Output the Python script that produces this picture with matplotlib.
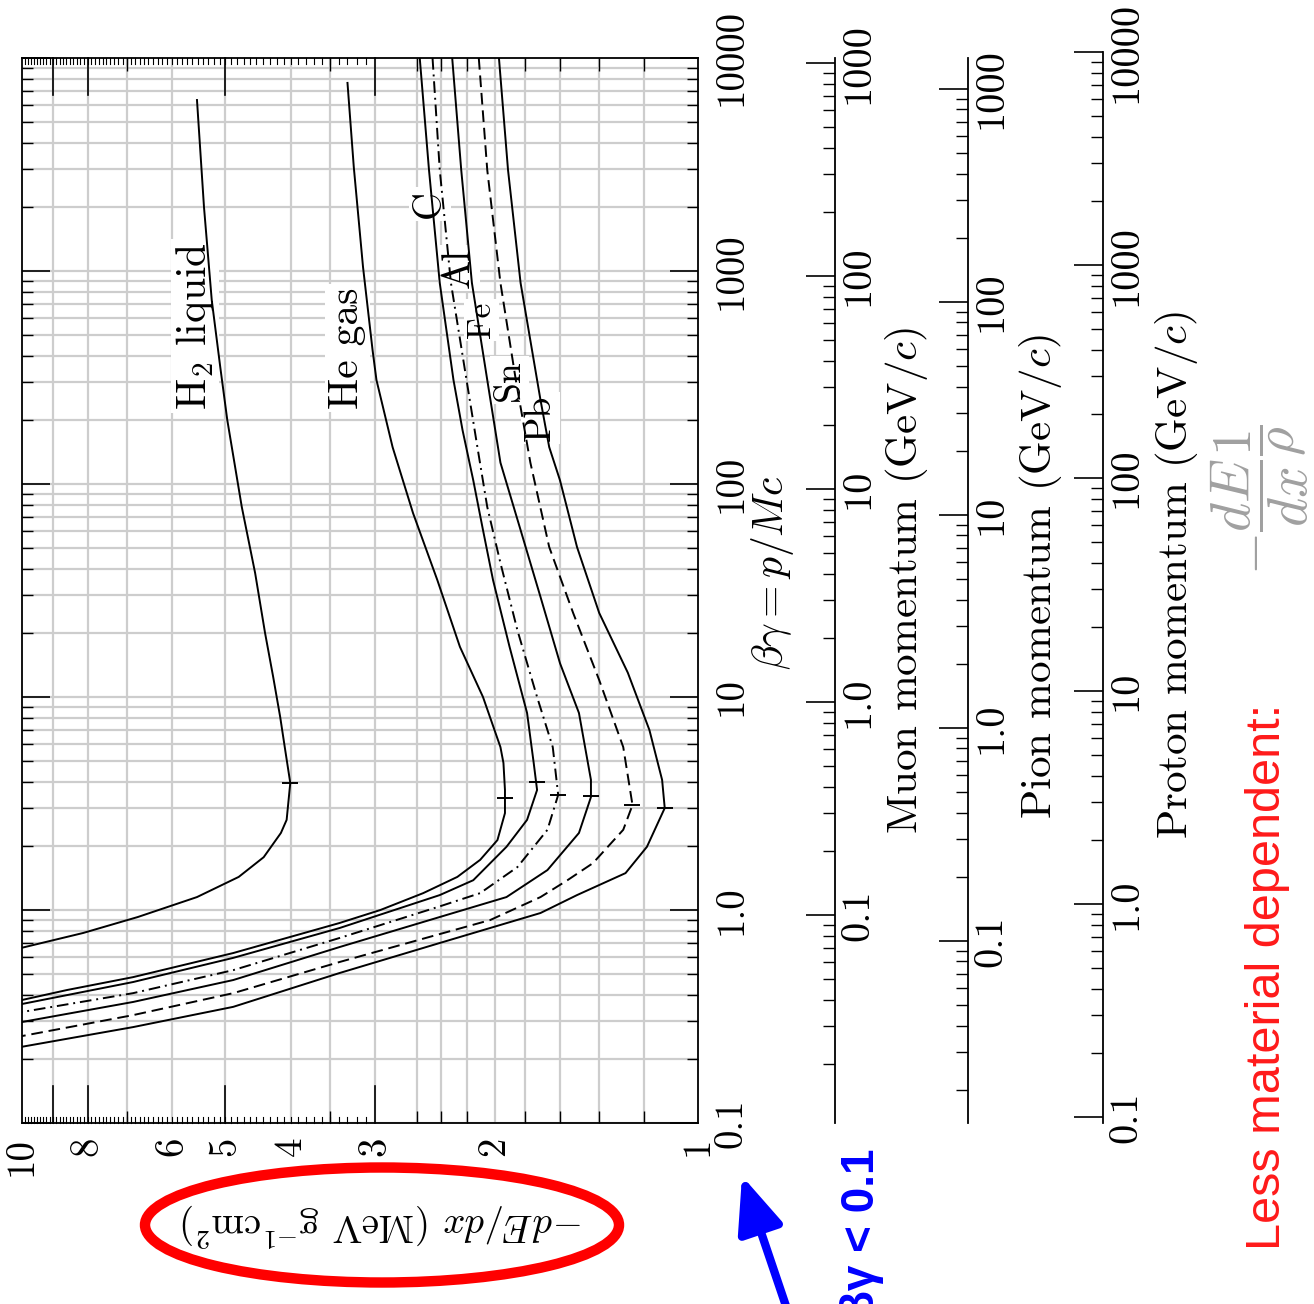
import numpy as np
import matplotlib
matplotlib.use("Agg")
import matplotlib.pyplot as plt
from matplotlib.patches import Ellipse, FancyArrowPatch
from matplotlib.ticker import FixedLocator, NullFormatter, LogLocator

plt.rcParams['font.family'] = 'cmr10'
plt.rcParams['mathtext.fontset'] = 'cm'
plt.rcParams['axes.formatter.use_mathtext'] = True

# beta*gamma and -dE/dx (MeV g^-1 cm^2)
bg_H2 = [6350, 1995, 731, 354, 200, 78, 38.2, 20, 12.4, 8.05, 5.64, 3.95, 2.65, 2.30, 1.77, 1.43, 1.15, 0.927, 0.780, 0.665]
dedx_H2 = [5.51, 5.38, 5.24, 5.09, 4.97, 4.73, 4.52, 4.37, 4.25, 4.15, 4.08, 4.01, 4.06, 4.14, 4.39, 4.78, 5.51, 6.74, 8.12, 10.0]

bg_He = [7640, 3080, 1045, 426, 308, 149, 73.1, 35.4, 17.2, 10.0, 5.82, 4.90, 3.66, 2.85, 2.13, 1.72, 1.43, 1.20, 1.00, 0.869, 0.628, 0.484, 0.421, 0.378]
dedx_He = [3.30, 3.23, 3.13, 3.03, 2.99, 2.83, 2.64, 2.43, 2.25, 2.08, 1.96, 1.94, 1.93, 1.93, 1.98, 2.10, 2.27, 2.55, 2.95, 3.39, 4.87, 6.85, 8.58, 10.0]

bg_C = [10000, 2980, 879, 308, 179, 104, 60.8, 35.4, 17.2, 8.41, 4.90, 3.66, 2.65, 1.98, 1.38, 1.175, 0.823, 0.596, 0.459, 0.362]
dedx_C = [2.58, 2.50, 2.41, 2.30, 2.23, 2.15, 2.08, 2.01, 1.90, 1.79, 1.75, 1.73, 1.79, 1.92, 2.15, 2.41, 3.39, 4.87, 6.85, 10.0]

bg_Al = [10000, 2980, 879, 308, 149, 78, 42.6, 20.6, 10.0, 5.82, 3.47, 2.38, 1.59, 1.20, 1.04, 0.739, 0.522, 0.407, 0.332]
dedx_Al = [2.47, 2.41, 2.32, 2.20, 2.12, 2.05, 1.96, 1.85, 1.73, 1.64, 1.61, 1.67, 1.85, 2.10, 2.41, 3.39, 4.87, 6.85, 10.0]

bg_Fe = [10000, 2980, 879, 308, 126, 60.8, 29.5, 14.4, 8.41, 4.08, 3.39, 2.30, 1.54, 1.15, 0.927, 0.670, 0.469, 0.370, 0.298]
dedx_Fe = [2.31, 2.24, 2.16, 2.05, 1.96, 1.83, 1.71, 1.60, 1.50, 1.44, 1.44, 1.50, 1.67, 1.92, 2.41, 3.39, 4.87, 6.85, 10.0]

bg_Sn = [10000, 2980, 879, 308, 126, 50.6, 24.8, 12.0, 5.82, 3.11, 2.38, 1.66, 1.38, 1.15, 0.897, 0.771, 0.570, 0.407, 0.321, 0.256]
dedx_Sn = [2.11, 2.05, 1.96, 1.86, 1.77, 1.66, 1.53, 1.40, 1.29, 1.25, 1.29, 1.43, 1.56, 1.71, 2.03, 2.41, 3.39, 4.87, 6.85, 10.0]

bg_Pb = [10000, 2980, 879, 248, 149, 104, 50.6, 24.8, 13.0, 7.00, 4.08, 3.01, 1.98, 1.49, 1.175, 0.968, 0.700, 0.506, 0.351, 0.282, 0.228]
dedx_Pb = [1.97, 1.91, 1.83, 1.71, 1.66, 1.60, 1.51, 1.40, 1.27, 1.18, 1.13, 1.12, 1.19, 1.28, 1.51, 1.71, 2.41, 3.39, 4.87, 6.85, 10.0]

# minimum ionization markers
bg_min = [3.95, 3.36, 3.99, 3.47, 3.43, 3.11, 3.01]
dedx_min = [4.01, 1.93, 1.73, 1.61, 1.44, 1.25, 1.12]

curve_names = ['H$_2$ liquid', 'He gas', 'C', 'Al', 'Fe', 'Sn', 'Pb']

bg_ticks = [0.1, 1, 10, 100, 1000, 10000]
bg_ticklabels = ['0.1', '1.0', '10', '100', '1000', '10000']
dedx_ticks = [10, 8, 6, 5, 4, 3, 2, 1]
dedx_ticklabels = ['10', '8', '6', '5', '4', '3', '2', '1']

mu_ticks = [0.1, 1, 10, 100, 1000]
mu_ticklabels = ['0.1', '1.0', '10', '100', '1000']
pi_ticks = [0.1, 1, 10, 100, 1000]
pi_ticklabels = ['0.1', '1.0', '10', '100', '1000']
p_ticks = [0.1, 1, 10, 100, 1000, 10000]
p_ticklabels = ['0.1', '1.0', '10', '100', '1000', '10000']
m_mu, m_pi, m_p = 0.10566, 0.13957, 0.93827

W, H = 1314, 1304
fig = plt.figure(figsize=(W / 100, H / 100), dpi=100)
fig.patch.set_facecolor('white')


def fx(px):
    return px / W


def fy(py):
    return 1 - py / H


# main plot: x = -dE/dx (reversed), y = beta*gamma
PL, PR, PT, PB = 22, 698, 58, 1123
ax = fig.add_axes([fx(PL), fy(PB), fx(PR) - fx(PL), fy(PT) - fy(PB)])
ax.set_xscale('log')
ax.set_yscale('log')
ax.set_xlim(10, 1)
ax.set_ylim(0.1, 10000)

grid_kw = dict(color='#cdcdcd', lw=1.6, zorder=0.5)
for v in [1.2, 1.4, 1.6, 1.8, 2.0, 2.2, 2.4, 2.6, 3, 3.5, 4, 5, 6, 7, 8, 9]:
    ax.axvline(v, **grid_kw)
for dec in [0.1, 1, 10, 100, 1000]:
    for k in range(1, 10):
        if k * dec < 10000:
            ax.axhline(k * dec, **grid_kw)

# y axis (beta gamma) labels on the right side
ax.yaxis.set_minor_locator(LogLocator(base=10, subs=np.arange(2, 10)))
ax.yaxis.set_minor_formatter(NullFormatter())
ax.set_yticks(bg_ticks)
ax.set_yticklabels(bg_ticklabels, rotation=90, va='center')
ax.tick_params(axis='y', which='both', direction='in', left=True, right=True,
               labelleft=False, labelright=True)
ax.tick_params(axis='y', which='major', length=20, width=1.2, pad=11, labelsize=28)
ax.tick_params(axis='y', which='minor', length=8, width=1.0)

# x axis (dE/dx) labels at the bottom
short_ticks = [7, 6, 4, 3.5, 2.6, 2.4, 2.2, 2.0, 1.8, 1.6, 1.4, 1.2]
ax.set_xticks(dedx_ticks)
ax.set_xticklabels(dedx_ticklabels, rotation=90)
ax.xaxis.set_minor_locator(FixedLocator(short_ticks))
ax.xaxis.set_minor_formatter(NullFormatter())
ax.tick_params(axis='x', which='major', length=0, pad=10, labelsize=28)
ax.tick_params(axis='x', which='minor', direction='in', length=9, width=1.0, top=True, bottom=True)
xt = ax.get_xaxis_transform()
for v in [9, 8, 5, 3]:
    ax.plot([v, v], [0, 0.035], color='black', lw=1.2, transform=xt, clip_on=False, zorder=3)
    ax.plot([v, v], [1, 0.965], color='black', lw=1.2, transform=xt, clip_on=False, zorder=3)
for v in np.arange(3.1, 10.0, 0.1):
    ax.plot([v, v], [0, 0.006], color='black', lw=0.8, transform=xt, clip_on=False, zorder=3)
    ax.plot([v, v], [1, 0.994], color='black', lw=0.8, transform=xt, clip_on=False, zorder=3)

for s in ax.spines.values():
    s.set_linewidth(1.3)

# curves
curves = [(bg_H2, dedx_H2, '-'), (bg_He, dedx_He, '-'), (bg_C, dedx_C, '-'),
          (bg_Al, dedx_Al, (0, (6, 2.5, 1, 2.5))), (bg_Fe, dedx_Fe, '-'),
          (bg_Sn, dedx_Sn, (0, (6, 3))), (bg_Pb, dedx_Pb, '-')]
for bg, de, ls in curves:
    ax.plot(de, bg, color='black', lw=1.4, ls=ls, zorder=2)
ax.plot(dedx_min, bg_min, ls='none', marker='_', ms=12, mew=1.4, color='black', zorder=2)

# curve labels (white boxes cut the grid)
lab_pos = [(5.55, 552, 30), (3.30, 435, 30), (2.49, 2065, 28), (2.26, 1033, 28),
           (2.09, 589, 24), (1.90, 308, 27), (1.71, 204, 27)]
for name, (xv, yv, fs) in zip(curve_names, lab_pos):
    ax.text(xv, yv, name, rotation=90, ha='center', va='center', fontsize=fs, zorder=1,
            bbox=dict(boxstyle='square,pad=0.08', fc='white', ec='none'))


# momentum scales
def mom_axis(xpix, mass, ticks, labels):
    lo = 0.1 * mass
    hi = max(10000 * mass, ticks[-1])
    top = PT - 213 * np.log10(hi / (10000 * mass))
    a = fig.add_axes([fx(xpix) - 1e-4, fy(PB), 1e-4, fy(top) - fy(PB)])
    a.set_yscale('log')
    a.set_ylim(lo, hi)
    a.set_xticks([])
    for s in ['left', 'top', 'bottom']:
        a.spines[s].set_visible(False)
    a.spines['right'].set_linewidth(1.3)
    a.patch.set_visible(False)
    a.yaxis.set_minor_locator(LogLocator(base=10, subs=np.arange(2, 10)))
    a.yaxis.set_minor_formatter(NullFormatter())
    a.set_yticks(ticks)
    a.set_yticklabels(labels, rotation=90, va='center')
    a.tick_params(axis='y', which='both', direction='in', left=False, right=True,
                  labelleft=False, labelright=True)
    a.tick_params(axis='y', which='major', length=21, width=1.2, pad=4, labelsize=29)
    a.tick_params(axis='y', which='minor', length=8.5, width=1.0)
    return a


mom_axis(835, m_mu, mu_ticks, mu_ticklabels)
mom_axis(968, m_pi, pi_ticks, pi_ticklabels)
mom_axis(1103, m_p, p_ticks, p_ticklabels)

fig.text(fx(773), fy(573), r'$\beta\gamma = p/Mc$', rotation=90, ha='center', va='center', fontsize=30)
fig.text(fx(906), fy(581), 'Muon momentum (GeV/$c$)', rotation=90, ha='center', va='center', fontsize=31)
fig.text(fx(1041), fy(577), 'Pion momentum (GeV/$c$)', rotation=90, ha='center', va='center', fontsize=31)
fig.text(fx(1176), fy(575), 'Proton momentum (GeV/$c$)', rotation=90, ha='center', va='center', fontsize=31)

fig.text(fx(382), fy(1225), r'$-dE/dx$ (MeV g$^{-1}$cm$^2$)', rotation=180, ha='center', va='center', fontsize=28)

# annotations on top of the picture
fig.add_artist(Ellipse((fx(382), fy(1225)), 474 / W, 115 / H, transform=fig.transFigure,
                       fill=False, edgecolor='#ff0000', linewidth=7.5))
fig.text(fx(1260), fy(500), r'$-\dfrac{dE}{dx}\dfrac{1}{\rho}$', rotation=90, ha='center', va='center',
         fontsize=40, color='#a0a0a0')
fig.text(fx(1268), fy(1250), 'Less material dependent:', rotation=90, ha='center', va='bottom',
         fontsize=35, color='#ff1a1a', family='Liberation Sans')
fig.text(fx(862), fy(1148), 'βγ < 0.1', rotation=90, ha='center', va='top', fontsize=33,
         fontweight='bold', color='#0000ff', family='Liberation Sans')
fig.add_artist(FancyArrowPatch((fx(788), fy(1312)), (fx(742), fy(1176)), transform=fig.transFigure,
                               arrowstyle='-|>,head_length=1.2,head_width=0.5', mutation_scale=28,
                               lw=6, color='#0000ff', shrinkA=0, shrinkB=0))

fig.savefig('out.png', dpi=100)
